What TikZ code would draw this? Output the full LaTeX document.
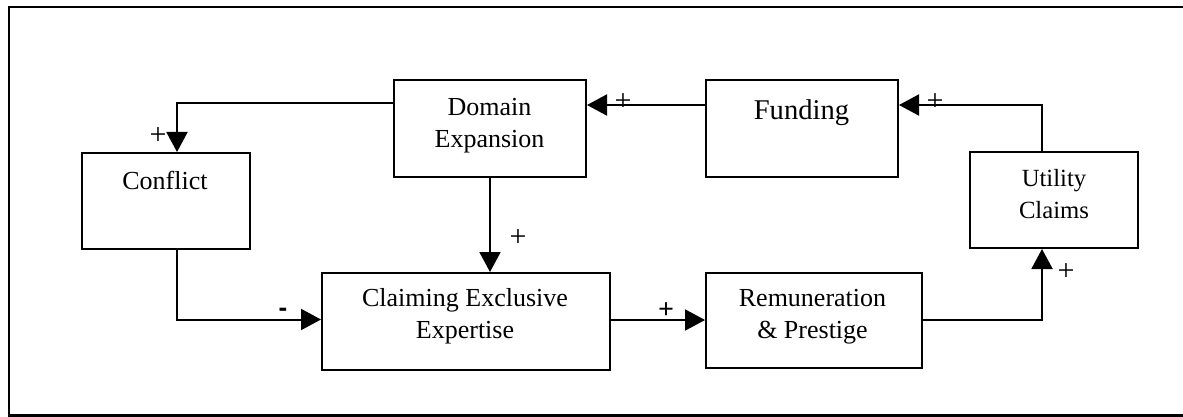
\documentclass[tikz,border=0pt]{standalone}
\usepackage{fontspec}
\setmainfont{Liberation Serif}
\newfontfamily\signfont{Liberation Sans}
\usetikzlibrary{arrows.meta,calc}

\begin{document}
\begin{tikzpicture}[x=1pt,y=-1pt,
  box/.style={draw,line width=2pt,rectangle,inner sep=0pt,anchor=north west},
  lbl/.style={anchor=base,align=center,inner sep=0pt,font=\fontsize{26}{31.6}\selectfont},
  sign/.style={inner sep=0pt,font=\fontsize{30}{30}\selectfont},
  arr/.style={line width=2pt,-{Triangle[length=20pt,width=21pt]}}]
\useasboundingbox (0,0) rectangle (1183,417);

% open frame
\draw[line width=2.4pt] (1183,7.3) -- (9,7.3) -- (9,415.5) -- (1183,415.5);

% boxes
\node[box,minimum width=192pt,minimum height=97pt] (dom)  at (393,79)  {};
\node[box,minimum width=192pt,minimum height=97pt] (fund) at (705,79)  {};
\node[box,minimum width=168pt,minimum height=96pt] (conf) at (81,152)  {};
\node[box,minimum width=168pt,minimum height=96pt] (util) at (969,151) {};
\node[box,minimum width=288pt,minimum height=97pt] (cee)  at (321,272) {};
\node[box,minimum width=216pt,minimum height=95pt] (rem)  at (705,272) {};

% box texts (base anchor sits on the last line)
\node[lbl] (dom-t)  at (489.5,147)   {Domain\\Expansion};
\node[lbl,font=\fontsize{28.6}{34}\selectfont] (fund-t) at (801.5,119.3) {Funding};
\node[lbl] (conf-t) at (165,189.3)   {Conflict};
\node[lbl,font=\fontsize{24.7}{31.6}\selectfont] (util-t) at (1054,218.3) {Utility\\Claims};
\node[lbl] (cee-t)  at (465,338.3)   {Claiming Exclusive\\Expertise};
\node[lbl] (rem-t)  at (812.5,338.3) {Remuneration\\\& Prestige};

% connectors
\draw[arr] ($(dom.north west)+(0,24)$) -| ($(conf.north west)+(96,0)$);
\draw[arr] ($(fund.north west)+(0,26)$) -- ($(dom.north east)+(0,26)$);
\draw[arr] ($(util.north west)+(73,0)$) |- ($(fund.north east)+(0,26)$);
\draw[arr] (dom.south) -- (dom.south |- cee.north);
\draw[arr] ($(conf.south west)+(96,0)$) |- ($(cee.north west)+(0,47.5)$);
\draw[arr] ($(cee.north east)+(0,48)$) -- ($(rem.north west)+(0,48)$);
\draw[arr] ($(rem.north east)+(0,47.5)$) -| ($(util.south west)+(73,0)$);

% polarity signs
\node[sign] (s1) at (158,136)  {+};
\node[sign] (s2) at (623,102)  {+};
\node[sign] (s3) at (935,102)  {+};
\node[sign] (s4) at (518,238)  {+};
\node[sign,font=\fontsize{28}{28}\selectfont\bfseries] (s5) at (666,311) {+};
\node[sign] (s6) at (1066,272) {+};
\node[inner sep=0pt,font=\signfont\fontsize{26}{26}\selectfont\bfseries] (s7) at (283,312) {-};
\end{tikzpicture}
\end{document}
